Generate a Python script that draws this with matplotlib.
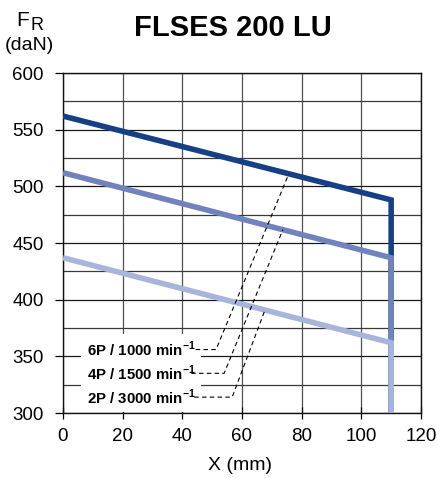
import matplotlib
matplotlib.use("Agg")
import matplotlib.pyplot as plt
import numpy as np
from matplotlib.ticker import MultipleLocator

# radial load curves FR (daN) vs distance X (mm)
x_mm = [0, 110, 110]
fr_6p = [562, 488, 300]
fr_4p = [512, 437, 300]
fr_2p = [437, 362, 300]

labels = ["6P / 1000 min", "4P / 1500 min", "2P / 3000 min"]
colors = ["#173f86", "#7182bd", "#a9b4da"]

plt.rcParams["font.family"] = ["Liberation Sans", "DejaVu Sans"]
plt.rcParams["mathtext.fontset"] = "custom"
plt.rcParams["mathtext.rm"] = "Liberation Sans"
plt.rcParams["mathtext.bf"] = "Liberation Sans:bold"

fig = plt.figure(figsize=(4.37, 4.78), dpi=100)
ax = fig.add_axes([63 / 437, 1 - 413 / 478, (421 - 63) / 437, (413 - 73) / 478])

ax.set_xlim(0, 120)
ax.set_ylim(300, 600)
ax.xaxis.set_major_locator(MultipleLocator(20))
ax.yaxis.set_major_locator(MultipleLocator(50))
ax.yaxis.set_minor_locator(MultipleLocator(25))

ax.grid(True, axis="x", which="major", color="#505050", lw=0.9)
ax.grid(True, axis="y", which="major", color="#1a1a1a", lw=0.9)
ax.grid(True, axis="y", which="minor", color="#3a3a3a", lw=0.9)
ax.set_axisbelow(True)

ax.tick_params(axis="x", direction="inout", length=9, width=0.9, pad=6, labelsize=13.5)
ax.tick_params(axis="y", which="major", direction="out", length=6, width=0.9, pad=8, labelsize=13.5)
ax.tick_params(axis="y", which="minor", length=0)
for s in ax.spines.values():
    s.set_linewidth(1.0)
    s.set_color("#111111")

# darkest first: lighter curves cover the shared vertical below their own corner
series = [fr_6p, fr_4p, fr_2p]
for i, (ys, c) in enumerate(zip(series, colors)):
    ax.plot(x_mm, ys, color=c, lw=4, solid_joinstyle="miter", solid_capstyle="butt", zorder=3 + i * 0.1)

# labels with dashed leaders to their curve
label_x = 8
label_y = [356, 335, 314]
dash_start = [44.5, 43, 44]
dash_knee = [51.3, 54, 56.7]
leader_end = [75.7, 73.7, 67.7]
for ys, lab, ly, x0, xk, xe in zip(series, labels, label_y, dash_start, dash_knee, leader_end):
    ax.text(label_x, ly, lab + r"$^{\mathbf{-1}}$", fontweight="bold",
            fontsize=10.8, va="center", ha="left", zorder=4,
            bbox=dict(facecolor="white", edgecolor="none", pad=4))
    ye = np.interp(xe, x_mm[:2], ys[:2])
    ax.plot([x0, xk, xe], [ly, ly, ye], color="black", lw=0.8,
            linestyle=(0, (4, 3)), zorder=4)

fig.text(233 / 437, 1 - 28 / 478, "FLSES 200 LU", fontweight="bold",
         fontsize=21, ha="center", va="center")
fig.text(16 / 437, 1 - 21 / 478, "F", fontsize=15, ha="left", va="center")
fig.text(31 / 437, 1 - 25 / 478, "R", fontsize=13, ha="left", va="center")
fig.text(29 / 437, 1 - 45 / 478, "(daN)", fontsize=14, ha="center", va="center")
fig.text(240 / 437, 1 - 466 / 478, "X (mm)", fontsize=14, ha="center", va="center")

fig.savefig("out.png", dpi=100)
